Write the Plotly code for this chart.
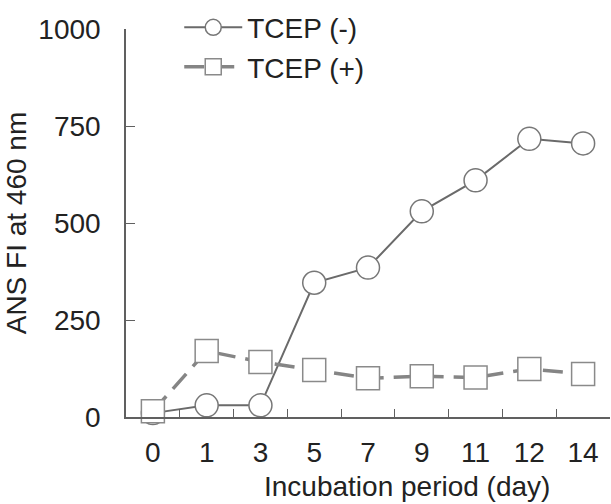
import plotly.graph_objects as go

days = ["0", "1", "3", "5", "7", "9", "11", "12", "14"]
tcep_minus = [10, 30, 30, 346, 385, 530, 610, 717, 705]
tcep_plus = [15, 170, 142, 121, 100, 105, 102, 124, 111]
y_ticks = [0, 250, 500, 750, 1000]

FS = 28

fig = go.Figure()
fig.add_trace(go.Scatter(
    x=days, y=tcep_minus, name="TCEP (-)", mode="lines+markers",
    line=dict(color="#6a6a6a", width=2),
    marker=dict(symbol="circle", size=23, color="white",
                line=dict(color="#777777", width=1.5)),
    cliponaxis=False,
))
fig.add_trace(go.Scatter(
    x=days, y=tcep_plus, name="TCEP (+)", mode="lines+markers",
    line=dict(color="#858585", width=3.5, dash="20px,10px"),
    marker=dict(symbol="square", size=23, color="white",
                line=dict(color="#8a8a8a", width=1.5)),
    cliponaxis=False,
))

fig.update_layout(
    width=611, height=504,
    margin=dict(l=126, r=1, t=29, b=87),
    paper_bgcolor="white", plot_bgcolor="white",
    font=dict(family="Liberation Sans, Arial, sans-serif", size=FS, color="#222222"),
    showlegend=True,
    legend=dict(x=0.11, y=1.068, xanchor="left", yanchor="top",
                bgcolor="rgba(0,0,0,0)", font=dict(size=FS), tracegroupgap=0,
                itemwidth=58),
    xaxis=dict(
        type="category", categoryorder="array", categoryarray=days,
        range=[-0.5, 8.5], showline=True, linecolor="#606060", linewidth=1.5,
        ticks="inside", tickson="boundaries", ticklen=8, tickcolor="#606060",
        showgrid=False, zeroline=False,
        tickfont=dict(size=FS), ticklabelstandoff=10,
    ),
    yaxis=dict(
        range=[0, 1000], tickvals=y_ticks, showline=True, linecolor="#606060",
        linewidth=1.5, ticks="inside", ticklen=9, tickcolor="#606060",
        showgrid=False, zeroline=False,
        title=dict(text="ANS FI at 460 nm", font=dict(size=FS), standoff=4),
        tickfont=dict(size=FS), ticklabelstandoff=18,
    ),
    annotations=[dict(
        text="Incubation period (day)", xref="paper", yref="paper",
        x=0.58, y=-0.178, xanchor="center", yanchor="middle",
        showarrow=False, font=dict(size=FS),
    )],
)

fig.write_html("out.html")
